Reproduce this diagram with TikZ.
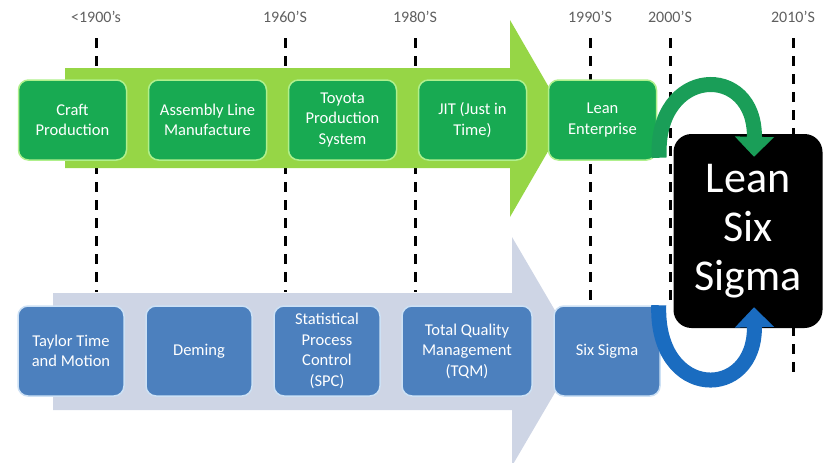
\documentclass[tikz,border=0pt]{standalone}
\usepackage{fontspec}
\setmainfont{Carlito}
\usepackage{tikz}
\usetikzlibrary{positioning}
\usetikzlibrary{arrows.meta}

\definecolor{leanlight}{RGB}{150,214,70}
\definecolor{leangreen}{RGB}{24,170,82}
\definecolor{leanedge}{RGB}{175,240,140}
\definecolor{qualgray}{RGB}{206,213,229}
\definecolor{qualblue}{RGB}{76,128,190}
\definecolor{qualedge}{RGB}{205,225,245}
\definecolor{swoopgreen}{RGB}{26,158,88}
\definecolor{swoopblue}{RGB}{26,108,192}
\definecolor{yeargray}{RGB}{95,95,95}

\begin{document}
\begin{tikzpicture}[x=1pt,y=-1pt,
  every node/.style={font=\fontsize{16.5}{20.5}\selectfont},
  leanbox/.style={rectangle,rounded corners=10pt,fill=leangreen,draw=leanedge,line width=1.5pt,text=white,align=center,minimum width=108pt,minimum height=80pt,inner sep=2pt},
  qualbox/.style={rectangle,rounded corners=10pt,fill=qualblue,draw=qualedge,line width=1.5pt,text=white,align=center,minimum width=106pt,minimum height=90pt,inner sep=2pt},
  yearlabel/.style={text=yeargray,font=\fontsize{16}{18}\selectfont},
  era/.style={line width=3pt,dash pattern=on 10pt off 8pt},
  swoop/.style={line width=15pt,-{Triangle[width=38pt,length=20pt]}}]

\useasboundingbox (0,0) rectangle (823,463);

\foreach \n/\x/\t/\b in {y1900/96/{<1900's}/292,y1960/285/{1960'S}/292,y1980/415/{1980'S}/292,y1990/590/{1990'S}/305,y2000/670/{2000'S}/305,y2010/793/{2010'S}/375} {
  \node[yearlabel] (\n) at (\x,17) {\t};
  \coordinate (\n-end) at (\x,\b);
  \draw[era,shorten <=12pt] (\n) -- (\n-end);
}

% the two big timeline arrows
\fill[leanlight] (65,68) -- (510,68) -- (510,20) -- (567,118.5) -- (510,217) -- (510,168) -- (65,168) -- cycle;
\fill[qualgray] (53,293) -- (512,293) -- (512,237) -- (579,351.5) -- (512,466) -- (512,410) -- (53,410) -- cycle;

\node[leanbox] (craft) at (72.5,120) {Craft\\Production};
\node[leanbox,minimum width=118pt,right=20.5pt of craft] (assembly) {Assembly Line\\Manufacture};
\node[leanbox,right=20.5pt of assembly] (toyota) {Toyota\\Production\\System};
\node[leanbox,right=20.5pt of toyota] (jit) {JIT (Just in\\Time)};
\node[leanbox,right=20.5pt of jit] (leanent) {Lean\\Enterprise};

\node[qualbox] (taylor) at (71,351) {Taylor Time\\and Motion};
\node[qualbox,right=20.5pt of taylor] (deming) {Deming};
\node[qualbox,right=20.5pt of deming] (spc) {Statistical\\Process\\Control\\(SPC)};
\node[qualbox,minimum width=130pt,right=20.5pt of spc] (tqm) {Total Quality\\Management\\(TQM)};
\node[qualbox,right=20.5pt of tqm] (sixsigma) {Six Sigma};

\node[rectangle,rounded corners=18pt,fill=black,text=white,align=center,minimum width=149pt,minimum height=194pt,font=\fontsize{44}{49}\selectfont] (lss) at (748,231) {Lean\\Six\\Sigma};

\draw[swoop,swoopgreen] ([xshift=2pt,yshift=3pt]leanent.south east) .. controls +(-5,-92) and +(2,-95) .. ([xshift=6pt,yshift=-23pt]lss.north);
\draw[swoop,swoopblue] ([xshift=-2pt]sixsigma.north east) .. controls +(-3,96) and +(2,94) .. ([xshift=6pt,yshift=21pt]lss.south);
\end{tikzpicture}
\end{document}
